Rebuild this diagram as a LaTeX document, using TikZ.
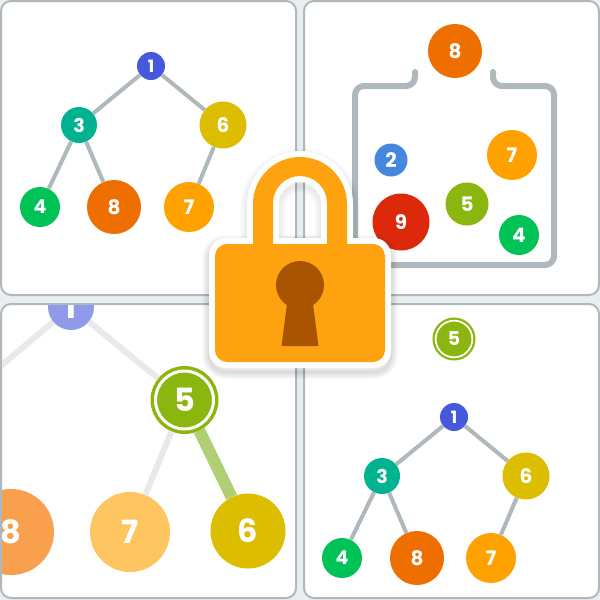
\documentclass[tikz,border=0pt]{standalone}
\usepackage{fontspec}
\setmainfont{Poppins}
\definecolor{bg}{HTML}{E9EEF0}
\definecolor{frame}{HTML}{AEB8BD}
\definecolor{cblue}{HTML}{4659DD}
\definecolor{cteal}{HTML}{00B390}
\definecolor{cyel}{HTML}{DCBD00}
\definecolor{cgrn}{HTML}{00C358}
\definecolor{corg}{HTML}{EE6E00}
\definecolor{camb}{HTML}{FFA200}
\definecolor{csky}{HTML}{4488DD}
\definecolor{clim}{HTML}{8AB60F}
\definecolor{cred}{HTML}{DC280B}
\definecolor{fblue}{HTML}{8F9BE8}
\definecolor{famb}{HTML}{FFC560}
\definecolor{forg}{HTML}{F9A04E}
\definecolor{fedge}{HTML}{E9E9E9}
\definecolor{gedge}{HTML}{B0CF74}
\definecolor{lockc}{HTML}{FFA20F}
\definecolor{keyc}{HTML}{A85300}
\tikzset{
 nd/.style n args={3}{circle,fill=#1,minimum size=#2,inner sep=0pt,text=white,
   font=\fontsize{#3}{#3}\selectfont\bfseries},
 ringnd/.style n args={5}{circle,fill=clim,minimum size=#1,inner sep=0pt,text=white,
   font=\fontsize{#2}{#2}\selectfont\bfseries,draw=white,line width=#3,outer sep=#4,
   preaction={draw=clim,line width=#5}},
 pane/.style={fill=white,draw=frame,line width=2pt,rounded corners=10pt},
 edge/.style={draw=frame,line width=4pt},
 fade/.style={draw=fedge,line width=6pt},
 hot/.style={draw=gedge,line width=12pt},
 jar/.style={draw=frame,line width=6pt,line cap=round,rounded corners=9pt},
}
\newcommand{\halopath}{
  (247,250) -- (247,204) arc[start angle=180,end angle=360,radius=53] -- (353,250) -- cycle
  (279,238) -- (279,203) arc[start angle=180,end angle=360,radius=21] -- (321,238) -- cycle}
\begin{document}
\begin{tikzpicture}[x=1pt,y=1pt,yscale=-1]
\useasboundingbox (0,0) rectangle (600,600);
\fill[bg] (0,0) rectangle (600,600);
% panels
\path[pane] (1,1) rectangle (296,295);
\path[pane] (304,1) rectangle (599,295);
\path[pane] (1,304) rectangle (296,598);
\path[pane] (304,304) rectangle (599,598);

% top-left tree
\node[nd={cblue}{28}{17}] (a1) at (151,66) {1};
\node[nd={cteal}{36}{19}] (a3) at (79,125) {3};
\node[nd={cyel}{47}{20}] (a6) at (223,125) {6};
\node[nd={cgrn}{40}{19}] (a4) at (40,207) {4};
\node[nd={corg}{54}{20}] (a8) at (114,207) {8};
\node[nd={camb}{50}{20}] (a7) at (189,207) {7};
\foreach \p/\q in {a1/a3,a1/a6,a3/a4,a3/a8,a6/a7} \draw[edge] (\p) -- (\q);

% top-right jar
\draw[jar] (415,72) -- (415,86) -- (355,86) -- (355,265) -- (554,265) -- (554,86) -- (493,86) -- (493,72);
\node[nd={corg}{54}{20}] (b8) at (455,51) {8};
\node[nd={camb}{50}{20}] (b7) at (512,155) {7};
\node[nd={csky}{33}{20}] (b2) at (391,160) {2};
\node[nd={clim}{43}{20}] (b5) at (467,204) {5};
\node[nd={cred}{57}{20}] (b9) at (401,222) {9};
\node[nd={cgrn}{40}{20}] (b4) at (519,235) {4};

% bottom-left zoomed tree
\begin{scope}
\clip[rounded corners=10pt] (2,305) rectangle (295,597);
\coordinate (cfree) at (-10,375);
\node[nd={fblue}{46}{32}] (c1) at (71,307) {1};
\node[ringnd={58}{32}{3pt}{5pt}{10pt}] (c5) at (184.5,400) {5};
\node[nd={famb}{80}{32}] (c7) at (130,532) {7};
\node[nd={cyel}{75}{32}] (c6) at (248,531) {6};
\node[nd={forg}{86}{32}] (c8) at (11,532) {8};
\draw[fade] (c1) -- (cfree);
\draw[fade] (c1) -- (c5);
\draw[fade] (c5) -- (c7);
\draw[hot] (c5) -- (c6);
\end{scope}

% bottom-right tree
\node[nd={cblue}{28}{17}] (d1) at (454,417) {1};
\node[nd={cteal}{36}{19}] (d3) at (382,476) {3};
\node[nd={cyel}{47}{20}] (d6) at (526,476) {6};
\node[nd={cgrn}{40}{19}] (d4) at (342,558) {4};
\node[nd={corg}{54}{20}] (d8) at (417,558) {8};
\node[nd={camb}{50}{20}] (d7) at (491,558) {7};
\foreach \p/\q in {d1/d3,d1/d6,d3/d4,d3/d8,d6/d7} \draw[edge] (\p) -- (\q);
\node[ringnd={36.7}{19}{1.7pt}{3.15pt}{6.3pt}] (d5) at (454,339) {5};

% lock shadow
\begin{scope}[shift={(0,4)}]
\foreach \w in {2,4,6,8,10,12,14}{
 \draw[black,opacity=.018,line width=\w pt,rounded corners=17pt] (209,238) rectangle (391,368);
 \draw[black,opacity=.012,line width=\w pt] \halopath;
}
\end{scope}
% lock halo
\fill[white,even odd rule] \halopath;
\fill[white,rounded corners=17pt] (209,238) rectangle (391,368);
% lock body and shackle
\fill[lockc,even odd rule]
  (253,250) -- (253,204) arc[start angle=180,end angle=360,radius=47] -- (347,250) -- cycle
  (273,250) -- (273,203) arc[start angle=180,end angle=360,radius=27] -- (327,250) -- cycle;
\fill[lockc,rounded corners=12pt] (215,244) rectangle (385,362);
\fill[keyc] (300,285) circle[radius=24];
\fill[keyc] (287.5,300) -- (312.5,300) -- (318.5,346) -- (281.5,346) -- cycle;
\end{tikzpicture}
\end{document}
